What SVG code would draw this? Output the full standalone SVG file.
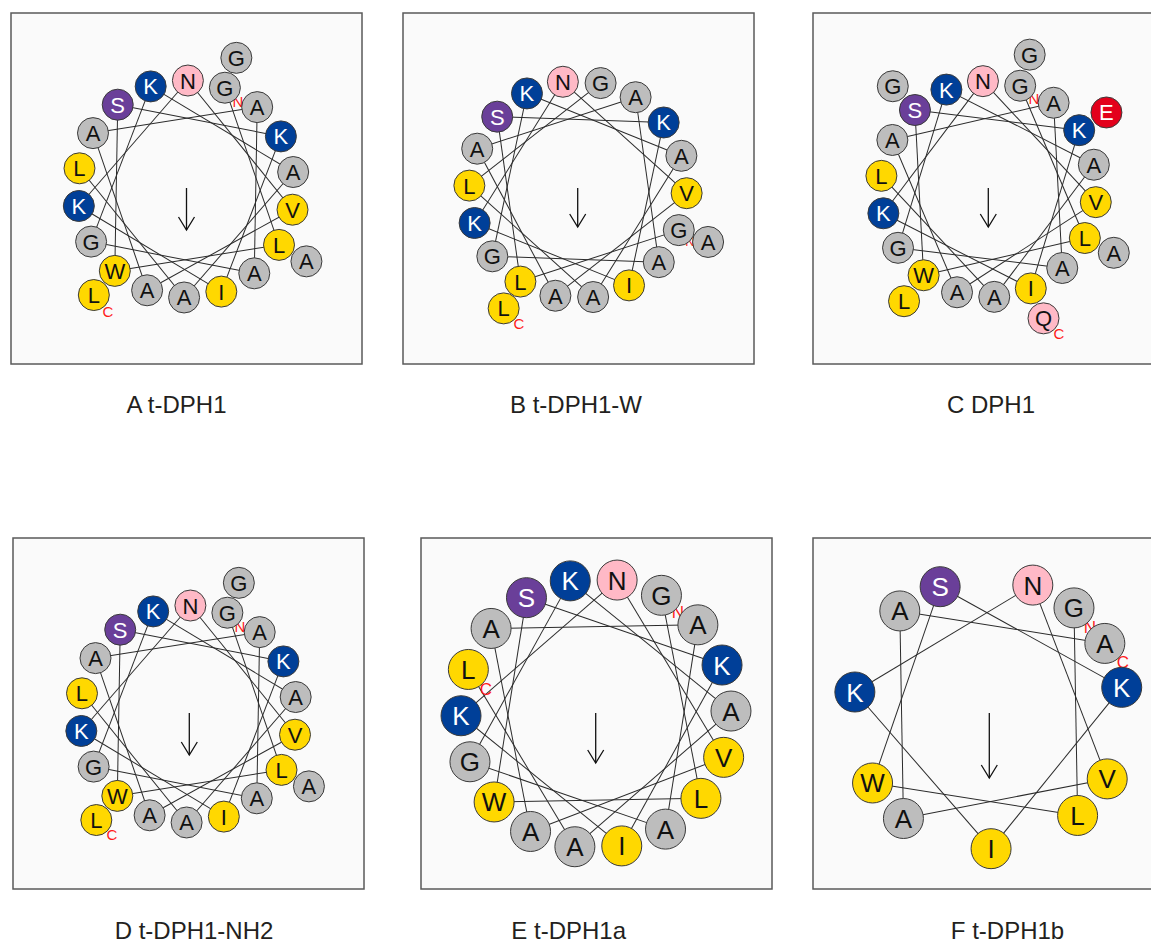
<svg xmlns="http://www.w3.org/2000/svg" xmlns:xlink="http://www.w3.org/1999/xlink" width="1151" height="943" viewBox="0 0 1151 943">
<style>
.box{fill:#fafafa;stroke:#5a5a5a;stroke-width:1.5}
.ln{stroke:#2b2b2b;stroke-width:1;fill:none}
circle{stroke:#3a3a3a;stroke-width:1}
.gr{fill:#bdbdbd}.ye{fill:#ffd800}.bl{fill:#003f98}.pk{fill:#ffb9c6}.pu{fill:#6a3f99}.rd{fill:#e3001b}
.t{font-family:"Liberation Sans",Arial,sans-serif;font-size:22px;text-anchor:middle;fill:#111}
.T{font-family:"Liberation Sans",Arial,sans-serif;font-size:26px;text-anchor:middle;fill:#111}
.w{fill:#fff}
.lab{font-family:"Liberation Sans",Arial,sans-serif;font-size:24px;text-anchor:middle;fill:#231f20}
.nc{font-family:"Liberation Sans",Arial,sans-serif;font-size:15px;text-anchor:middle;fill:#ff1a1a}
.NC{font-family:"Liberation Sans",Arial,sans-serif;font-size:17px;text-anchor:middle;fill:#ff1a1a}
.arr{stroke:#111;stroke-width:1.3;fill:none;marker-end:url(#vee)}
</style>
<defs>
<marker id="vee" markerUnits="userSpaceOnUse" orient="auto" markerWidth="20" markerHeight="20" viewBox="-15 -10 20 20" refX="0" refY="0" overflow="visible"><path d="M-13,-8 L0,0 L-13,8" fill="none" stroke="#111" stroke-width="1.3"/></marker>
<line id="chA" x1="0" y1="-108.5" x2="106.85" y2="18.84"/>
<line id="chB" x1="0" y1="-108.7" x2="107.05" y2="18.88"/>
<line id="chC" x1="0" y1="-108" x2="106.36" y2="18.75"/>
<line id="chE" x1="0" y1="-135" x2="132.95" y2="23.44"/>
<line id="chF" x1="0" y1="-135.5" x2="133.44" y2="23.53"/>
</defs>
<rect width="1151" height="943" fill="#fff"/>
<rect class="box" x="11" y="13" width="351" height="351"/>
<rect class="box" x="403" y="13" width="351" height="351"/>
<rect class="box" x="813" y="13" width="360" height="351"/>
<rect class="box" x="13" y="538" width="351" height="351"/>
<rect class="box" x="421" y="538" width="351" height="351"/>
<rect class="box" x="813" y="538" width="360" height="351"/>

<!-- connectors -->
<g id="connectors" class="ln">
<g id="links-A" transform="translate(186 189)">
<use xlink:href="#chA" transform="rotate(21)"/><use xlink:href="#chA" transform="rotate(121)"/><use xlink:href="#chA" transform="rotate(221)"/><use xlink:href="#chA" transform="rotate(321)"/><use xlink:href="#chA" transform="rotate(61)"/><use xlink:href="#chA" transform="rotate(161)"/><use xlink:href="#chA" transform="rotate(261)"/><use xlink:href="#chA" transform="rotate(1)"/><use xlink:href="#chA" transform="rotate(101)"/><use xlink:href="#chA" transform="rotate(201)"/><use xlink:href="#chA" transform="rotate(301)"/><use xlink:href="#chA" transform="rotate(41)"/><use xlink:href="#chA" transform="rotate(141)"/><use xlink:href="#chA" transform="rotate(241)"/><use xlink:href="#chA" transform="rotate(341)"/><use xlink:href="#chA" transform="rotate(81)"/><use xlink:href="#chA" transform="rotate(181)"/>
</g>
<g id="links-B" transform="translate(578 189.4)">
<use xlink:href="#chB" transform="rotate(112)"/><use xlink:href="#chB" transform="rotate(212)"/><use xlink:href="#chB" transform="rotate(312)"/><use xlink:href="#chB" transform="rotate(52)"/><use xlink:href="#chB" transform="rotate(152)"/><use xlink:href="#chB" transform="rotate(252)"/><use xlink:href="#chB" transform="rotate(-8)"/><use xlink:href="#chB" transform="rotate(92)"/><use xlink:href="#chB" transform="rotate(192)"/><use xlink:href="#chB" transform="rotate(292)"/><use xlink:href="#chB" transform="rotate(32)"/><use xlink:href="#chB" transform="rotate(132)"/><use xlink:href="#chB" transform="rotate(232)"/><use xlink:href="#chB" transform="rotate(332)"/><use xlink:href="#chB" transform="rotate(72)"/><use xlink:href="#chB" transform="rotate(172)"/><use xlink:href="#chB" transform="rotate(272)"/>
</g>
<g id="links-C" transform="translate(988.6 189)">
<use xlink:href="#chC" transform="rotate(17)"/><use xlink:href="#chC" transform="rotate(117)"/><use xlink:href="#chC" transform="rotate(217)"/><use xlink:href="#chC" transform="rotate(317)"/><use xlink:href="#chC" transform="rotate(57)"/><use xlink:href="#chC" transform="rotate(157)"/><use xlink:href="#chC" transform="rotate(257)"/><use xlink:href="#chC" transform="rotate(-3)"/><use xlink:href="#chC" transform="rotate(97)"/><use xlink:href="#chC" transform="rotate(197)"/><use xlink:href="#chC" transform="rotate(297)"/><use xlink:href="#chC" transform="rotate(37)"/><use xlink:href="#chC" transform="rotate(137)"/><use xlink:href="#chC" transform="rotate(237)"/><use xlink:href="#chC" transform="rotate(337)"/><use xlink:href="#chC" transform="rotate(77)"/><use xlink:href="#chC" transform="rotate(177)"/>
</g>
<g id="links-D" transform="translate(188.5 714)">
<use xlink:href="#chA" transform="rotate(21)"/><use xlink:href="#chA" transform="rotate(121)"/><use xlink:href="#chA" transform="rotate(221)"/><use xlink:href="#chA" transform="rotate(321)"/><use xlink:href="#chA" transform="rotate(61)"/><use xlink:href="#chA" transform="rotate(161)"/><use xlink:href="#chA" transform="rotate(261)"/><use xlink:href="#chA" transform="rotate(1)"/><use xlink:href="#chA" transform="rotate(101)"/><use xlink:href="#chA" transform="rotate(201)"/><use xlink:href="#chA" transform="rotate(301)"/><use xlink:href="#chA" transform="rotate(41)"/><use xlink:href="#chA" transform="rotate(141)"/><use xlink:href="#chA" transform="rotate(241)"/><use xlink:href="#chA" transform="rotate(341)"/><use xlink:href="#chA" transform="rotate(81)"/><use xlink:href="#chA" transform="rotate(181)"/>
</g>
<g id="links-E" transform="translate(596 713.4)">
<use xlink:href="#chE" transform="rotate(29)"/><use xlink:href="#chE" transform="rotate(129)"/><use xlink:href="#chE" transform="rotate(229)"/><use xlink:href="#chE" transform="rotate(329)"/><use xlink:href="#chE" transform="rotate(69)"/><use xlink:href="#chE" transform="rotate(169)"/><use xlink:href="#chE" transform="rotate(269)"/><use xlink:href="#chE" transform="rotate(9)"/><use xlink:href="#chE" transform="rotate(109)"/><use xlink:href="#chE" transform="rotate(209)"/><use xlink:href="#chE" transform="rotate(309)"/><use xlink:href="#chE" transform="rotate(49)"/><use xlink:href="#chE" transform="rotate(149)"/><use xlink:href="#chE" transform="rotate(249)"/><use xlink:href="#chE" transform="rotate(349)"/><use xlink:href="#chE" transform="rotate(89)"/><use xlink:href="#chE" transform="rotate(189)"/>
</g>
<g id="links-F" transform="translate(988.7 713.2)">
<use xlink:href="#chF" transform="rotate(39)"/><use xlink:href="#chF" transform="rotate(139)"/><use xlink:href="#chF" transform="rotate(239)"/><use xlink:href="#chF" transform="rotate(339)"/><use xlink:href="#chF" transform="rotate(79)"/><use xlink:href="#chF" transform="rotate(179)"/><use xlink:href="#chF" transform="rotate(279)"/><use xlink:href="#chF" transform="rotate(19)"/><use xlink:href="#chF" transform="rotate(119)"/><use xlink:href="#chF" transform="rotate(219)"/><use xlink:href="#chF" transform="rotate(319)"/>
</g>
<line class="arr" x1="186.5" y1="188" x2="186.5" y2="230"/>
<line class="arr" x1="577.7" y1="188" x2="577.7" y2="227"/>
<line class="arr" x1="988.3" y1="188" x2="988.3" y2="227"/>
<line class="arr" x1="189.3" y1="713" x2="189.3" y2="755"/>
<line class="arr" x1="595.7" y1="713" x2="595.7" y2="763"/>
<line class="arr" x1="989.3" y1="713" x2="989.3" y2="778"/>
</g>

<!-- terminal labels -->
<g id="termini">
<text class="nc" x="238" y="107">N</text><text class="nc" x="108" y="317">C</text>
<text class="nc" x="690" y="246" style="font-size:13px">N</text><text class="nc" x="519" y="329">C</text>
<text class="nc" x="1034" y="104">N</text><text class="nc" x="1059" y="339">C</text>
<text class="nc" x="240" y="632">N</text><text class="nc" x="112" y="840">C</text>
<text class="NC" x="678" y="618">N</text><text class="NC" x="486" y="695">C</text>
<text class="NC" x="1090" y="633">N</text><text class="NC" x="1123" y="668">C</text>
</g>

<!-- Panel A -->
<g id="wheel-A">
<g id="A-o1" transform="translate(186 189) rotate(21) translate(0 -140.5) rotate(-21)"><circle r="15.5" class="gr"/><text y="8" class="t">G</text></g>
<g id="A-o6" transform="translate(186 189) rotate(121) translate(0 -140.5) rotate(-121)"><circle r="15.5" class="gr"/><text y="8" class="t">A</text></g>
<g id="A-o11" transform="translate(186 189) rotate(221) translate(0 -140.5) rotate(-221)"><circle r="15.5" class="ye"/><text y="8" class="t">L</text></g>
<g id="A-0" transform="translate(186 189) rotate(1) translate(0 -108.5) rotate(-1)"><circle r="15.5" class="pk"/><text y="8" class="t">N</text></g>
<g id="A-1" transform="translate(186 189) rotate(21) translate(0 -108.5) rotate(-21)"><circle r="15.5" class="gr"/><text y="8" class="t">G</text></g>
<g id="A-2" transform="translate(186 189) rotate(41) translate(0 -108.5) rotate(-41)"><circle r="15.5" class="gr"/><text y="8" class="t">A</text></g>
<g id="A-3" transform="translate(186 189) rotate(61) translate(0 -108.5) rotate(-61)"><circle r="15.5" class="bl"/><text y="8" class="t w">K</text></g>
<g id="A-4" transform="translate(186 189) rotate(81) translate(0 -108.5) rotate(-81)"><circle r="15.5" class="gr"/><text y="8" class="t">A</text></g>
<g id="A-5" transform="translate(186 189) rotate(101) translate(0 -108.5) rotate(-101)"><circle r="15.5" class="ye"/><text y="8" class="t">V</text></g>
<g id="A-6" transform="translate(186 189) rotate(121) translate(0 -108.5) rotate(-121)"><circle r="15.5" class="ye"/><text y="8" class="t">L</text></g>
<g id="A-7" transform="translate(186 189) rotate(141) translate(0 -108.5) rotate(-141)"><circle r="15.5" class="gr"/><text y="8" class="t">A</text></g>
<g id="A-8" transform="translate(186 189) rotate(161) translate(0 -108.5) rotate(-161)"><circle r="15.5" class="ye"/><text y="8" class="t">I</text></g>
<g id="A-9" transform="translate(186 189) rotate(181) translate(0 -108.5) rotate(-181)"><circle r="15.5" class="gr"/><text y="8" class="t">A</text></g>
<g id="A-10" transform="translate(186 189) rotate(201) translate(0 -108.5) rotate(-201)"><circle r="15.5" class="gr"/><text y="8" class="t">A</text></g>
<g id="A-11" transform="translate(186 189) rotate(221) translate(0 -108.5) rotate(-221)"><circle r="15.5" class="ye"/><text y="8" class="t">W</text></g>
<g id="A-12" transform="translate(186 189) rotate(241) translate(0 -108.5) rotate(-241)"><circle r="15.5" class="gr"/><text y="8" class="t">G</text></g>
<g id="A-13" transform="translate(186 189) rotate(261) translate(0 -108.5) rotate(-261)"><circle r="15.5" class="bl"/><text y="8" class="t w">K</text></g>
<g id="A-14" transform="translate(186 189) rotate(281) translate(0 -108.5) rotate(-281)"><circle r="15.5" class="ye"/><text y="8" class="t">L</text></g>
<g id="A-15" transform="translate(186 189) rotate(301) translate(0 -108.5) rotate(-301)"><circle r="15.5" class="gr"/><text y="8" class="t">A</text></g>
<g id="A-16" transform="translate(186 189) rotate(321) translate(0 -108.5) rotate(-321)"><circle r="15.5" class="pu"/><text y="8" class="t w">S</text></g>
<g id="A-17" transform="translate(186 189) rotate(341) translate(0 -108.5) rotate(-341)"><circle r="15.5" class="bl"/><text y="8" class="t w">K</text></g>
</g>

<!-- Panel B -->
<g id="wheel-B">
<g id="B-o6" transform="translate(578 189.4) rotate(112) translate(0 -140.3) rotate(-112)"><circle r="15.5" class="gr"/><text y="8" class="t">A</text></g>
<g id="B-o11" transform="translate(578 189.4) rotate(212) translate(0 -140.3) rotate(-212)"><circle r="15.5" class="ye"/><text y="8" class="t">L</text></g>
<g id="B-0" transform="translate(578 189.4) rotate(-8) translate(0 -108.7) rotate(8)"><circle r="15.5" class="pk"/><text y="8" class="t">N</text></g>
<g id="B-1" transform="translate(578 189.4) rotate(12) translate(0 -108.7) rotate(-12)"><circle r="15.5" class="gr"/><text y="8" class="t">G</text></g>
<g id="B-2" transform="translate(578 189.4) rotate(32) translate(0 -108.7) rotate(-32)"><circle r="15.5" class="gr"/><text y="8" class="t">A</text></g>
<g id="B-3" transform="translate(578 189.4) rotate(52) translate(0 -108.7) rotate(-52)"><circle r="15.5" class="bl"/><text y="8" class="t w">K</text></g>
<g id="B-4" transform="translate(578 189.4) rotate(72) translate(0 -108.7) rotate(-72)"><circle r="15.5" class="gr"/><text y="8" class="t">A</text></g>
<g id="B-5" transform="translate(578 189.4) rotate(92) translate(0 -108.7) rotate(-92)"><circle r="15.5" class="ye"/><text y="8" class="t">V</text></g>
<g id="B-6" transform="translate(578 189.4) rotate(112) translate(0 -108.7) rotate(-112)"><circle r="15.5" class="gr"/><text y="8" class="t">G</text></g>
<g id="B-7" transform="translate(578 189.4) rotate(132) translate(0 -108.7) rotate(-132)"><circle r="15.5" class="gr"/><text y="8" class="t">A</text></g>
<g id="B-8" transform="translate(578 189.4) rotate(152) translate(0 -108.7) rotate(-152)"><circle r="15.5" class="ye"/><text y="8" class="t">I</text></g>
<g id="B-9" transform="translate(578 189.4) rotate(172) translate(0 -108.7) rotate(-172)"><circle r="15.5" class="gr"/><text y="8" class="t">A</text></g>
<g id="B-10" transform="translate(578 189.4) rotate(192) translate(0 -108.7) rotate(-192)"><circle r="15.5" class="gr"/><text y="8" class="t">A</text></g>
<g id="B-11" transform="translate(578 189.4) rotate(212) translate(0 -108.7) rotate(-212)"><circle r="15.5" class="ye"/><text y="8" class="t">L</text></g>
<g id="B-12" transform="translate(578 189.4) rotate(232) translate(0 -108.7) rotate(-232)"><circle r="15.5" class="gr"/><text y="8" class="t">G</text></g>
<g id="B-13" transform="translate(578 189.4) rotate(252) translate(0 -108.7) rotate(-252)"><circle r="15.5" class="bl"/><text y="8" class="t w">K</text></g>
<g id="B-14" transform="translate(578 189.4) rotate(272) translate(0 -108.7) rotate(-272)"><circle r="15.5" class="ye"/><text y="8" class="t">L</text></g>
<g id="B-15" transform="translate(578 189.4) rotate(292) translate(0 -108.7) rotate(-292)"><circle r="15.5" class="gr"/><text y="8" class="t">A</text></g>
<g id="B-16" transform="translate(578 189.4) rotate(312) translate(0 -108.7) rotate(-312)"><circle r="15.5" class="pu"/><text y="8" class="t w">S</text></g>
<g id="B-17" transform="translate(578 189.4) rotate(332) translate(0 -108.7) rotate(-332)"><circle r="15.5" class="bl"/><text y="8" class="t w">K</text></g>
</g>

<!-- Panel C -->
<g id="wheel-C">
<g id="C-o1" transform="translate(988.6 189) rotate(17) translate(0 -140.5) rotate(-17)"><circle r="15.5" class="gr"/><text y="8" class="t">G</text></g>
<g id="C-o3" transform="translate(988.6 189) rotate(57) translate(0 -140.5) rotate(-57)"><circle r="15.5" class="rd"/><text y="8" class="t w">E</text></g>
<g id="C-o6" transform="translate(988.6 189) rotate(117) translate(0 -140.5) rotate(-117)"><circle r="15.5" class="gr"/><text y="8" class="t">A</text></g>
<g id="C-o8" transform="translate(988.6 189) rotate(157) translate(0 -140.5) rotate(-157)"><circle r="15.5" class="pk"/><text y="8" class="t">Q</text></g>
<g id="C-o11" transform="translate(988.6 189) rotate(217) translate(0 -140.5) rotate(-217)"><circle r="15.5" class="ye"/><text y="8" class="t">L</text></g>
<g id="C-o16" transform="translate(988.6 189) rotate(317) translate(0 -140.5) rotate(-317)"><circle r="15.5" class="gr"/><text y="8" class="t">G</text></g>
<g id="C-0" transform="translate(988.6 189) rotate(-3) translate(0 -108) rotate(3)"><circle r="15.5" class="pk"/><text y="8" class="t">N</text></g>
<g id="C-1" transform="translate(988.6 189) rotate(17) translate(0 -108) rotate(-17)"><circle r="15.5" class="gr"/><text y="8" class="t">G</text></g>
<g id="C-2" transform="translate(988.6 189) rotate(37) translate(0 -108) rotate(-37)"><circle r="15.5" class="gr"/><text y="8" class="t">A</text></g>
<g id="C-3" transform="translate(988.6 189) rotate(57) translate(0 -108) rotate(-57)"><circle r="15.5" class="bl"/><text y="8" class="t w">K</text></g>
<g id="C-4" transform="translate(988.6 189) rotate(77) translate(0 -108) rotate(-77)"><circle r="15.5" class="gr"/><text y="8" class="t">A</text></g>
<g id="C-5" transform="translate(988.6 189) rotate(97) translate(0 -108) rotate(-97)"><circle r="15.5" class="ye"/><text y="8" class="t">V</text></g>
<g id="C-6" transform="translate(988.6 189) rotate(117) translate(0 -108) rotate(-117)"><circle r="15.5" class="ye"/><text y="8" class="t">L</text></g>
<g id="C-7" transform="translate(988.6 189) rotate(137) translate(0 -108) rotate(-137)"><circle r="15.5" class="gr"/><text y="8" class="t">A</text></g>
<g id="C-8" transform="translate(988.6 189) rotate(157) translate(0 -108) rotate(-157)"><circle r="15.5" class="ye"/><text y="8" class="t">I</text></g>
<g id="C-9" transform="translate(988.6 189) rotate(177) translate(0 -108) rotate(-177)"><circle r="15.5" class="gr"/><text y="8" class="t">A</text></g>
<g id="C-10" transform="translate(988.6 189) rotate(197) translate(0 -108) rotate(-197)"><circle r="15.5" class="gr"/><text y="8" class="t">A</text></g>
<g id="C-11" transform="translate(988.6 189) rotate(217) translate(0 -108) rotate(-217)"><circle r="15.5" class="ye"/><text y="8" class="t">W</text></g>
<g id="C-12" transform="translate(988.6 189) rotate(237) translate(0 -108) rotate(-237)"><circle r="15.5" class="gr"/><text y="8" class="t">G</text></g>
<g id="C-13" transform="translate(988.6 189) rotate(257) translate(0 -108) rotate(-257)"><circle r="15.5" class="bl"/><text y="8" class="t w">K</text></g>
<g id="C-14" transform="translate(988.6 189) rotate(277) translate(0 -108) rotate(-277)"><circle r="15.5" class="ye"/><text y="8" class="t">L</text></g>
<g id="C-15" transform="translate(988.6 189) rotate(297) translate(0 -108) rotate(-297)"><circle r="15.5" class="gr"/><text y="8" class="t">A</text></g>
<g id="C-16" transform="translate(988.6 189) rotate(317) translate(0 -108) rotate(-317)"><circle r="15.5" class="pu"/><text y="8" class="t w">S</text></g>
<g id="C-17" transform="translate(988.6 189) rotate(337) translate(0 -108) rotate(-337)"><circle r="15.5" class="bl"/><text y="8" class="t w">K</text></g>
</g>

<!-- Panel D -->
<g id="wheel-D">
<g id="D-o1" transform="translate(188.5 714) rotate(21) translate(0 -140.5) rotate(-21)"><circle r="15.5" class="gr"/><text y="8" class="t">G</text></g>
<g id="D-o6" transform="translate(188.5 714) rotate(121) translate(0 -140.5) rotate(-121)"><circle r="15.5" class="gr"/><text y="8" class="t">A</text></g>
<g id="D-o11" transform="translate(188.5 714) rotate(221) translate(0 -140.5) rotate(-221)"><circle r="15.5" class="ye"/><text y="8" class="t">L</text></g>
<g id="D-0" transform="translate(188.5 714) rotate(1) translate(0 -108.5) rotate(-1)"><circle r="15.5" class="pk"/><text y="8" class="t">N</text></g>
<g id="D-1" transform="translate(188.5 714) rotate(21) translate(0 -108.5) rotate(-21)"><circle r="15.5" class="gr"/><text y="8" class="t">G</text></g>
<g id="D-2" transform="translate(188.5 714) rotate(41) translate(0 -108.5) rotate(-41)"><circle r="15.5" class="gr"/><text y="8" class="t">A</text></g>
<g id="D-3" transform="translate(188.5 714) rotate(61) translate(0 -108.5) rotate(-61)"><circle r="15.5" class="bl"/><text y="8" class="t w">K</text></g>
<g id="D-4" transform="translate(188.5 714) rotate(81) translate(0 -108.5) rotate(-81)"><circle r="15.5" class="gr"/><text y="8" class="t">A</text></g>
<g id="D-5" transform="translate(188.5 714) rotate(101) translate(0 -108.5) rotate(-101)"><circle r="15.5" class="ye"/><text y="8" class="t">V</text></g>
<g id="D-6" transform="translate(188.5 714) rotate(121) translate(0 -108.5) rotate(-121)"><circle r="15.5" class="ye"/><text y="8" class="t">L</text></g>
<g id="D-7" transform="translate(188.5 714) rotate(141) translate(0 -108.5) rotate(-141)"><circle r="15.5" class="gr"/><text y="8" class="t">A</text></g>
<g id="D-8" transform="translate(188.5 714) rotate(161) translate(0 -108.5) rotate(-161)"><circle r="15.5" class="ye"/><text y="8" class="t">I</text></g>
<g id="D-9" transform="translate(188.5 714) rotate(181) translate(0 -108.5) rotate(-181)"><circle r="15.5" class="gr"/><text y="8" class="t">A</text></g>
<g id="D-10" transform="translate(188.5 714) rotate(201) translate(0 -108.5) rotate(-201)"><circle r="15.5" class="gr"/><text y="8" class="t">A</text></g>
<g id="D-11" transform="translate(188.5 714) rotate(221) translate(0 -108.5) rotate(-221)"><circle r="15.5" class="ye"/><text y="8" class="t">W</text></g>
<g id="D-12" transform="translate(188.5 714) rotate(241) translate(0 -108.5) rotate(-241)"><circle r="15.5" class="gr"/><text y="8" class="t">G</text></g>
<g id="D-13" transform="translate(188.5 714) rotate(261) translate(0 -108.5) rotate(-261)"><circle r="15.5" class="bl"/><text y="8" class="t w">K</text></g>
<g id="D-14" transform="translate(188.5 714) rotate(281) translate(0 -108.5) rotate(-281)"><circle r="15.5" class="ye"/><text y="8" class="t">L</text></g>
<g id="D-15" transform="translate(188.5 714) rotate(301) translate(0 -108.5) rotate(-301)"><circle r="15.5" class="gr"/><text y="8" class="t">A</text></g>
<g id="D-16" transform="translate(188.5 714) rotate(321) translate(0 -108.5) rotate(-321)"><circle r="15.5" class="pu"/><text y="8" class="t w">S</text></g>
<g id="D-17" transform="translate(188.5 714) rotate(341) translate(0 -108.5) rotate(-341)"><circle r="15.5" class="bl"/><text y="8" class="t w">K</text></g>
</g>

<!-- Panel E -->
<g id="wheel-E">
<g id="E-0" transform="translate(596 713.4) rotate(9) translate(0 -135) rotate(-9)"><circle r="20" class="pk"/><text y="9.5" class="T">N</text></g>
<g id="E-1" transform="translate(596 713.4) rotate(29) translate(0 -135) rotate(-29)"><circle r="20" class="gr"/><text y="9.5" class="T">G</text></g>
<g id="E-2" transform="translate(596 713.4) rotate(49) translate(0 -135) rotate(-49)"><circle r="20" class="gr"/><text y="9.5" class="T">A</text></g>
<g id="E-3" transform="translate(596 713.4) rotate(69) translate(0 -135) rotate(-69)"><circle r="20" class="bl"/><text y="9.5" class="T w">K</text></g>
<g id="E-4" transform="translate(596 713.4) rotate(89) translate(0 -135) rotate(-89)"><circle r="20" class="gr"/><text y="9.5" class="T">A</text></g>
<g id="E-5" transform="translate(596 713.4) rotate(109) translate(0 -135) rotate(-109)"><circle r="20" class="ye"/><text y="9.5" class="T">V</text></g>
<g id="E-6" transform="translate(596 713.4) rotate(129) translate(0 -135) rotate(-129)"><circle r="20" class="ye"/><text y="9.5" class="T">L</text></g>
<g id="E-7" transform="translate(596 713.4) rotate(149) translate(0 -135) rotate(-149)"><circle r="20" class="gr"/><text y="9.5" class="T">A</text></g>
<g id="E-8" transform="translate(596 713.4) rotate(169) translate(0 -135) rotate(-169)"><circle r="20" class="ye"/><text y="9.5" class="T">I</text></g>
<g id="E-9" transform="translate(596 713.4) rotate(189) translate(0 -135) rotate(-189)"><circle r="20" class="gr"/><text y="9.5" class="T">A</text></g>
<g id="E-10" transform="translate(596 713.4) rotate(209) translate(0 -135) rotate(-209)"><circle r="20" class="gr"/><text y="9.5" class="T">A</text></g>
<g id="E-11" transform="translate(596 713.4) rotate(229) translate(0 -135) rotate(-229)"><circle r="20" class="ye"/><text y="9.5" class="T">W</text></g>
<g id="E-12" transform="translate(596 713.4) rotate(249) translate(0 -135) rotate(-249)"><circle r="20" class="gr"/><text y="9.5" class="T">G</text></g>
<g id="E-13" transform="translate(596 713.4) rotate(269) translate(0 -135) rotate(-269)"><circle r="20" class="bl"/><text y="9.5" class="T w">K</text></g>
<g id="E-14" transform="translate(596 713.4) rotate(289) translate(0 -135) rotate(-289)"><circle r="20" class="ye"/><text y="9.5" class="T">L</text></g>
<g id="E-15" transform="translate(596 713.4) rotate(309) translate(0 -135) rotate(-309)"><circle r="20" class="gr"/><text y="9.5" class="T">A</text></g>
<g id="E-16" transform="translate(596 713.4) rotate(329) translate(0 -135) rotate(-329)"><circle r="20" class="pu"/><text y="9.5" class="T w">S</text></g>
<g id="E-17" transform="translate(596 713.4) rotate(349) translate(0 -135) rotate(-349)"><circle r="20" class="bl"/><text y="9.5" class="T w">K</text></g>
</g>

<!-- Panel F -->
<g id="wheel-F">
<g id="F-1" transform="translate(988.7 713.2) rotate(19) translate(0 -135.5) rotate(-19)"><circle r="20" class="pk"/><text y="9.5" class="T">N</text></g>
<g id="F-2" transform="translate(988.7 713.2) rotate(39) translate(0 -135.5) rotate(-39)"><circle r="20" class="gr"/><text y="9.5" class="T">G</text></g>
<g id="F-3" transform="translate(988.7 713.2) rotate(59) translate(0 -135.5) rotate(-59)"><circle r="20" class="gr"/><text y="9.5" class="T">A</text></g>
<g id="F-4" transform="translate(988.7 713.2) rotate(79) translate(0 -135.5) rotate(-79)"><circle r="20" class="bl"/><text y="9.5" class="T w">K</text></g>
<g id="F-6" transform="translate(988.7 713.2) rotate(119) translate(0 -135.5) rotate(-119)"><circle r="20" class="ye"/><text y="9.5" class="T">V</text></g>
<g id="F-7" transform="translate(988.7 713.2) rotate(139) translate(0 -135.5) rotate(-139)"><circle r="20" class="ye"/><text y="9.5" class="T">L</text></g>
<g id="F-9" transform="translate(988.7 713.2) rotate(179) translate(0 -135.5) rotate(-179)"><circle r="20" class="ye"/><text y="9.5" class="T">I</text></g>
<g id="F-11" transform="translate(988.7 713.2) rotate(219) translate(0 -135.5) rotate(-219)"><circle r="20" class="gr"/><text y="9.5" class="T">A</text></g>
<g id="F-12" transform="translate(988.7 713.2) rotate(239) translate(0 -135.5) rotate(-239)"><circle r="20" class="ye"/><text y="9.5" class="T">W</text></g>
<g id="F-14" transform="translate(988.7 713.2) rotate(279) translate(0 -135.5) rotate(-279)"><circle r="20" class="bl"/><text y="9.5" class="T w">K</text></g>
<g id="F-16" transform="translate(988.7 713.2) rotate(319) translate(0 -135.5) rotate(-319)"><circle r="20" class="gr"/><text y="9.5" class="T">A</text></g>
<g id="F-17" transform="translate(988.7 713.2) rotate(339) translate(0 -135.5) rotate(-339)"><circle r="20" class="pu"/><text y="9.5" class="T w">S</text></g>
</g>

<!-- captions -->
<g id="captions">
<text class="lab" x="176.5" y="413">A t-DPH1</text>
<text class="lab" x="576" y="413">B t-DPH1-W</text>
<text class="lab" x="991" y="413">C DPH1</text>
<text class="lab" x="194" y="939">D t-DPH1-NH2</text>
<text class="lab" x="568.7" y="939">E t-DPH1a</text>
<text class="lab" x="1007.5" y="939">F t-DPH1b</text>
</g>
</svg>
